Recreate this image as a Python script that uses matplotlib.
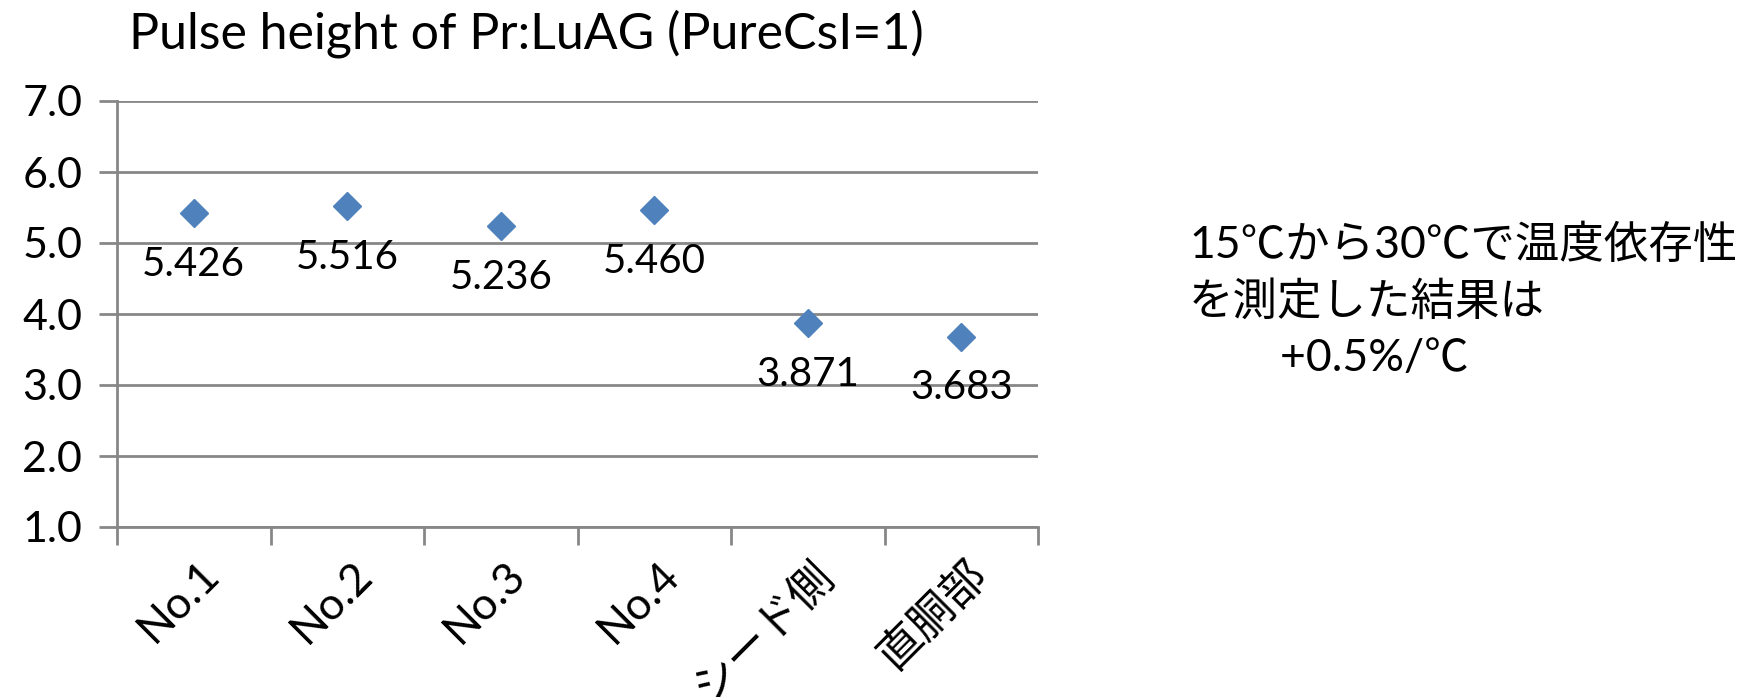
import matplotlib
matplotlib.use('Agg')
import matplotlib.pyplot as plt
import matplotlib.transforms as mtransforms

# Daten
categories = ['No.1', 'No.2', 'No.3', 'No.4', 'シード側', '直胴部']
pulse_height = [5.426, 5.516, 5.236, 5.460, 3.871, 3.683]
value_labels = ['5.426', '5.516', '5.236', '5.460', '3.871', '3.683']
yticks = [1.0, 2.0, 3.0, 4.0, 5.0, 6.0, 7.0]
note_lines = ['15℃から30℃で温度依存性', 'を測定した結果は', '        +0.5%/℃']

plt.rcParams['font.family'] = ['Lato', 'Noto Sans CJK JP', 'DejaVu Sans']
grid_col = '#878787'

fig = plt.figure(figsize=(17.64, 6.97), dpi=100)
ax = fig.add_axes([117 / 1764, 1 - 527 / 697, (1038 - 117) / 1764, (527 - 101) / 697])

x = list(range(len(categories)))
ax.plot(x, pulse_height, linestyle='none', marker='D', markersize=14,
        color='#4F81BD', zorder=3)
for xi, yi, lab in zip(x, pulse_height, value_labels):
    ax.annotate(lab, (xi, yi), xytext=(0, -37), textcoords='offset points',
                ha='center', va='center', fontsize=29, zorder=4)

ax.set_xlim(-0.5, len(categories) - 0.5)
ax.set_ylim(1.0, 7.0)
ax.set_yticks(yticks)
ax.set_yticklabels([f'{v:.1f}' for v in yticks], fontsize=31)
ax.yaxis.grid(True, color=grid_col, linewidth=2)
ax.set_axisbelow(True)

# Kategorie-Ticks an den Grenzen, Beschriftungen in der Mitte
ax.set_xticks([i - 0.5 for i in range(len(categories) + 1)])
ax.set_xticklabels([])
ax.set_xticks(x, minor=True)
ax.set_xticklabels(categories, minor=True, fontsize=32, rotation=45,
                   ha='right', va='top', rotation_mode='anchor')
ax.tick_params(axis='x', which='major', length=13, width=2, color=grid_col, direction='out')
ax.tick_params(axis='x', which='minor', length=0, pad=19)
ax.tick_params(axis='y', length=13, width=2, color=grid_col, pad=12)

shift = mtransforms.ScaledTranslation(4 / 100, 0, fig.dpi_scale_trans)
for lbl in ax.get_xticklabels(minor=True):
    lbl.set_transform(lbl.get_transform() + shift)

for s in ['top', 'right']:
    ax.spines[s].set_visible(False)
for s in ['left', 'bottom']:
    ax.spines[s].set_color(grid_col)
    ax.spines[s].set_linewidth(2)

fig.text(129 / 1764, 1 - 34 / 697, 'Pulse height of Pr:LuAG (PureCsI=1)',
         fontsize=36, ha='left', va='center')

for i, line in enumerate(note_lines):
    fig.text(1189 / 1764, 1 - (245 + 57 * i) / 697, line, fontsize=32,
             ha='left', va='center')

plt.savefig('out.png', dpi=100)
